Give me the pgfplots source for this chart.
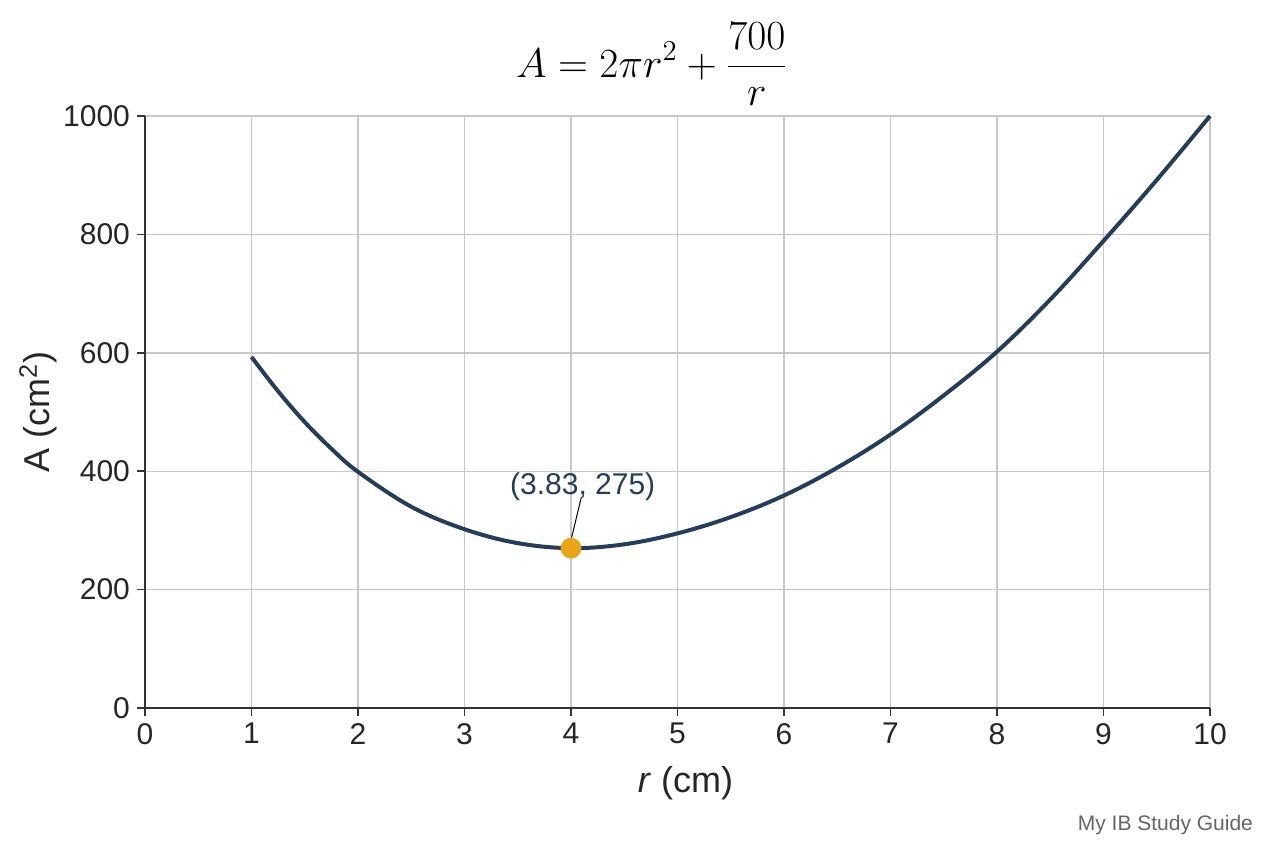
\documentclass[border=0pt]{standalone}
\usepackage{fontspec}
\setmainfont{Liberation Sans}
\usepackage{pgfplots}
\pgfplotsset{compat=1.18}
\definecolor{curvec}{RGB}{36,60,96}
\definecolor{gridc}{RGB}{200,200,200}
\definecolor{markc}{RGB}{234,165,22}
\begin{document}
\begin{tikzpicture}
\begin{axis}[
  at={(0,0)}, anchor=south west,
  scale only axis, width=532.5pt, height=296pt,
  xmin=0, xmax=10, ymin=0, ymax=1000,
  xtick={0,1,...,10}, ytick={0,200,...,1000},
  axis lines*=left,
  axis line style={-, color=black!80, line width=0.8pt},
  grid=major, grid style={gridc, line width=0.7pt},
  tick align=outside, major tick length=4pt,
  tick style={black!80, line width=0.8pt},
  ticklabel style={font=\fontsize{15}{18}\selectfont, text=black!85},
  /pgf/number format/assume math mode=true,
  /pgf/number format/1000 sep={},
  xlabel={\textit{r} (cm)}, ylabel={A (cm\textsuperscript{2})},
  label style={font=\fontsize{18}{22}\selectfont, text=black!85},
  xlabel style={at={(axis description cs:0.5075,-0.1267)}, anchor=center},
  ylabel style={at={(axis description cs:-0.1005,0.5)}, anchor=center},
  clip=false,
]
\addplot[curvec, line width=2pt, smooth, tension=0.6] coordinates {
  (1,593) (1.25,535) (1.5,483) (1.75,438) (2,399) (2.5,340) (3,302) (3.5,278.5) (4,270)
  (4.5,276.5) (5,295) (5.5,322.5) (6,359) (6.5,406) (7,462) (7.5,528)
  (8,602) (8.5,690) (9,789) (9.5,892) (10,1000)
};
\addplot[only marks, mark=*, mark size=5pt, mark options={fill=markc, draw=markc}] coordinates {(4,270)};
\draw[black, line width=0.5pt] (axis cs:4.097,356) -- (axis cs:4.006,288);
\node[text=curvec, font=\fontsize{15}{18}\selectfont] at (axis cs:4.11,373) {(3.83, 275)};
\end{axis}
\node[font=\fontsize{21}{25}\selectfont] at (253.5pt,322pt) {$\displaystyle A = 2\pi r^2 + \frac{700}{r}$};
\node[anchor=east, text=black!60, font=\fontsize{10.5}{12}\selectfont] at (557.5pt,-58.5pt) {My IB Study Guide};
\path[use as bounding box] (-72.5pt,-70pt) rectangle (559.5pt,354pt);
\end{tikzpicture}
\end{document}
